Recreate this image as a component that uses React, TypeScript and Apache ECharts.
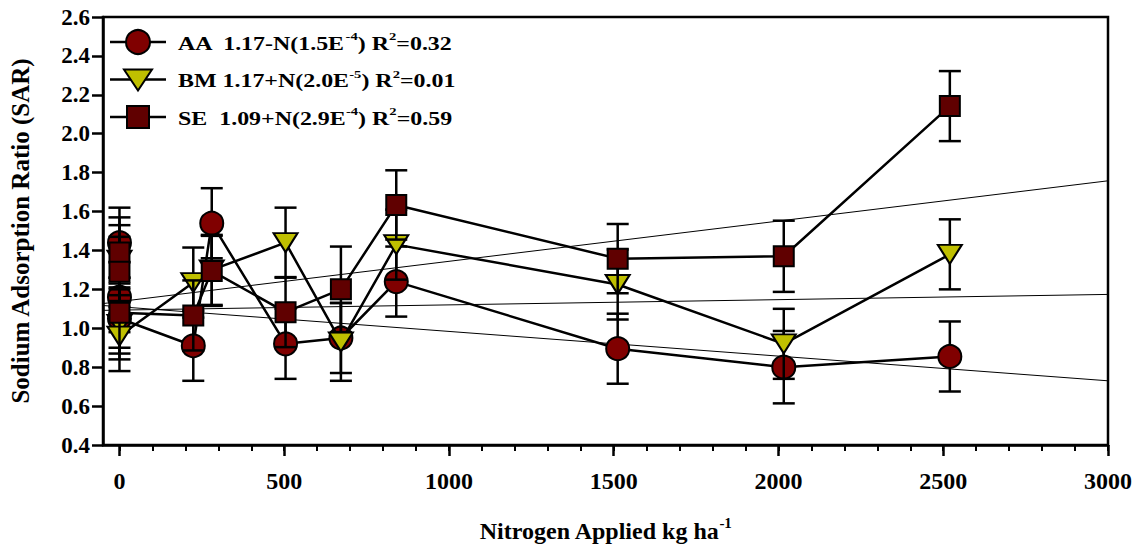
import { useEffect, useRef } from "react";
import * as echarts from "echarts";

// Nitrogen rates (kg/ha); three control plots at 0 for each source
const nitrogen = [0, 0, 0, 224, 280, 504, 672, 840, 1512, 2016, 2520];

// Sodium adsorption ratio means and standard errors per N source
const sarAA = [1.44, 1.16, 1.05, 0.91, 1.54, 0.92, 0.95, 1.24, 0.895, 0.8, 0.855];
const errAA = [0.18, 0.18, 0.18, 0.18, 0.18, 0.18, 0.18, 0.18, 0.18, 0.186, 0.18];
const sarBM = [1.35, 1.02, 0.96, 1.235, 1.3, 1.44, 0.93, 1.43, 1.225, 0.92, 1.38];
const errBM = [0.18, 0.18, 0.18, 0.18, 0.18, 0.18, 0.2, 0.18, 0.18, 0.18, 0.18];
const sarSE = [1.39, 1.29, 1.08, 1.066, 1.295, 1.083, 1.2, 1.634, 1.358, 1.37, 2.142];
const errSE = [0.18, 0.18, 0.18, 0.18, 0.18, 0.18, 0.22, 0.178, 0.178, 0.183, 0.18];

// Fitted trend lines, end points across the axis range
const trendX = [-50, 3000];
const trendAA = [1.117, 0.73];
const trendBM = [1.092, 1.174];
const trendSE = [1.127, 1.758];

const xMajorTicks = [0, 500, 1000, 1500, 2000, 2500, 3000];
const xMinorTicks = [
  0, 100, 200, 300, 400, 500, 600, 700, 800, 900, 1000, 1100, 1200, 1300, 1400,
  1500, 1600, 1700, 1800, 1900, 2000, 2100, 2200, 2300, 2400, 2500, 2600, 2700,
  2800, 2900, 3000,
];

const seriesNames = ["AA", "BM", "SE"];
const legendParts = [
  ["AA  1.17-N(1.5E", "-4", ") R", "2", "=0.32"],
  ["BM 1.17+N(2.0E", "-5", ") R", "2", "=0.01"],
  ["SE  1.09+N(2.9E", "-4", ") R", "2", "=0.59"],
];

const FONT = "'Liberation Serif', 'Times New Roman', serif";
const RED = "#800000";
const MAROON = "#600000";
const OLIVE = "#bfbf00";

const zip = (xs: number[], ys: number[]) => xs.map((x, i) => [x, ys[i]]);
const zip3 = (xs: number[], ys: number[], es: number[]) =>
  xs.map((x, i) => [x, ys[i], es[i]]);

function errorBars(name: string, data: number[][], z: number) {
  return {
    type: "custom",
    name: name + "-err",
    z,
    data,
    encode: { x: 0, y: 1 },
    renderItem: (_p: any, api: any) => {
      const x = api.value(0);
      const y = api.value(1);
      const e = api.value(2);
      const top = api.coord([x, y + e]);
      const bot = api.coord([x, y - e]);
      const half = 11;
      const st = { stroke: "#000", lineWidth: 2.5 };
      return {
        type: "group",
        children: [
          { type: "line", shape: { x1: top[0], y1: top[1], x2: bot[0], y2: bot[1] }, style: st },
          { type: "line", shape: { x1: top[0] - half, y1: top[1], x2: top[0] + half, y2: top[1] }, style: st },
          { type: "line", shape: { x1: bot[0] - half, y1: bot[1], x2: bot[0] + half, y2: bot[1] }, style: st },
        ],
      };
    },
  };
}

function lineSeries(name: string, data: number[][], symbol: string, size: any, color: string, z: number, rotate = 0) {
  return {
    type: "line",
    name,
    z,
    data,
    symbol,
    symbolSize: size,
    symbolRotate: rotate,
    showAllSymbol: true,
    lineStyle: { color: "#000", width: 2.5 },
    itemStyle: { color, borderColor: "#000", borderWidth: 2 },
    emphasis: { disabled: true },
  };
}

function trendSeries(name: string, ys: number[]) {
  return {
    type: "line",
    name,
    z: 1,
    data: zip(trendX, ys),
    symbol: "none",
    lineStyle: { color: "#000", width: 1 },
    emphasis: { disabled: true },
  };
}

const richText = {
  n: { fontFamily: FONT, fontWeight: "bold", fontSize: 18, lineHeight: 22, verticalAlign: "bottom", fill: "#000" },
  s: { fontFamily: FONT, fontWeight: "bold", fontSize: 11, lineHeight: 12, verticalAlign: "top", fill: "#000" },
};

function legendMarker(i: number) {
  const style = { stroke: "#000", lineWidth: 2 };
  if (i === 0) return { type: "circle", shape: { cx: 28, cy: 0, r: 12 }, style: { ...style, fill: RED } };
  if (i === 1)
    return {
      type: "polygon",
      shape: { points: [[14, -10], [42, -10], [28, 11]] },
      style: { ...style, fill: OLIVE },
    };
  return { type: "rect", shape: { x: 17, y: -11, width: 22, height: 22 }, style: { ...style, fill: MAROON } };
}

function legendGraphic() {
  return seriesNames.map((_n, i) => {
    const p = legendParts[i];
    return {
      type: "group",
      x: 110,
      y: 42 + i * 37.5,
      children: [
        { type: "line", shape: { x1: 0, y1: 0, x2: 56, y2: 0 }, style: { stroke: "#000", lineWidth: 2.5 } },
        legendMarker(i),
        {
          type: "text",
          x: 68,
          y: 0,
          scaleX: 1.33,
          style: {
            text: `{n|${p[0]}}{s|${p[1]}}{n|${p[2]}}{s|${p[3]}}{n|${p[4]}}`,
            rich: richText,
            verticalAlign: "middle",
            align: "left",
          },
        },
      ],
    };
  });
}

export default function App() {
  const ref = useRef<HTMLDivElement>(null);

  useEffect(() => {
    if (!ref.current) return;
    const chart = echarts.init(ref.current, null, { renderer: "svg" });
    const axisLineStyle = { color: "#000", width: 2.5 };
    chart.setOption({
      animation: false,
      backgroundColor: "#fff",
      grid: {
        left: 103,
        right: 36,
        top: 17,
        bottom: 99,
        show: true,
        borderColor: "#000",
        borderWidth: 2.5,
      },
      xAxis: [
        {
          type: "value",
          min: -50,
          max: 3000,
          position: "bottom",
          axisLine: { show: true, onZero: false, lineStyle: axisLineStyle },
          axisTick: { show: true, customValues: xMajorTicks, length: 11, lineStyle: { color: "#000", width: 2.5 } },
          axisLabel: {
            customValues: xMajorTicks,
            margin: 24,
            formatter: (v: number) => String(v),
            fontFamily: FONT,
            fontWeight: "bold",
            fontSize: 24,
            color: "#000",
          },
          splitLine: { show: false },
          name: "{n|Nitrogen Applied kg ha}{s|-1}",
          nameLocation: "middle",
          nameGap: 70,
          nameTextStyle: {
            rich: {
              n: { fontFamily: FONT, fontWeight: "bold", fontSize: 24, lineHeight: 28, verticalAlign: "bottom", color: "#000" },
              s: { fontFamily: FONT, fontWeight: "bold", fontSize: 15, lineHeight: 16, verticalAlign: "top", color: "#000" },
            },
          },
        },
        {
          type: "value",
          min: -50,
          max: 3000,
          position: "bottom",
          axisLine: { show: false, onZero: false },
          axisTick: { show: true, customValues: xMinorTicks, length: 6, lineStyle: { color: "#000", width: 2 } },
          axisLabel: { show: false },
          splitLine: { show: false },
        },
      ],
      yAxis: {
        type: "value",
        min: 0.4,
        max: 2.6,
        interval: 0.2,
        axisLine: { show: true, onZero: false, lineStyle: axisLineStyle },
        axisTick: { show: true, length: 11, lineStyle: { color: "#000", width: 2.5 } },
        axisLabel: {
          margin: 13,
          formatter: (v: number) => v.toFixed(1),
          fontFamily: FONT,
          fontWeight: "bold",
          fontSize: 23,
          color: "#000",
        },
        splitLine: { show: false },
        name: "Sodium Adsorption Ratio (SAR)",
        nameLocation: "middle",
        nameGap: 70,
        nameTextStyle: { fontFamily: FONT, fontWeight: "bold", fontSize: 25, color: "#000" },
      },
      series: [
        trendSeries("AA-fit", trendAA),
        trendSeries("BM-fit", trendBM),
        trendSeries("SE-fit", trendSE),
        errorBars("AA", zip3(nitrogen, sarAA, errAA), 2),
        lineSeries("AA", zip(nitrogen, sarAA), "circle", 23, RED, 3),
        errorBars("BM", zip3(nitrogen, sarBM, errBM), 4),
        lineSeries("BM", zip(nitrogen, sarBM), "triangle", [24, 19], OLIVE, 5, 180),
        errorBars("SE", zip3(nitrogen, sarSE, errSE), 6),
        lineSeries("SE", zip(nitrogen, sarSE), "rect", 20, MAROON, 7),
      ],
      graphic: legendGraphic(),
    });
    return () => chart.dispose();
  }, []);

  return (
    <div
      ref={ref}
      style={{ position: "fixed", left: 0, top: 0, width: 1144, height: 548, background: "#fff" }}
    />
  );
}
